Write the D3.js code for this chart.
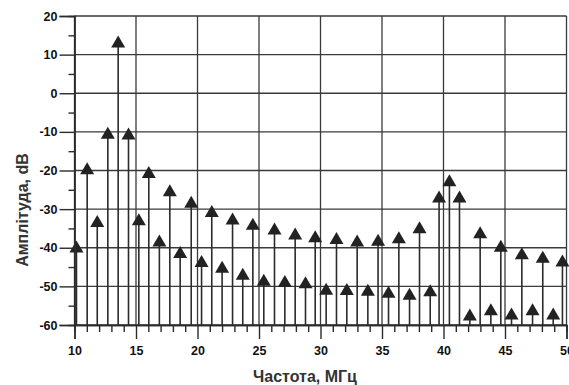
<!DOCTYPE html>
<html>
<head>
<meta charset="utf-8">
<script src="https://cdn.jsdelivr.net/npm/d3@7"></script>
<style>
  html, body { margin: 0; padding: 0; background: #fff; }
  svg { display: block; }
  .tick text { font-family: "Liberation Sans", Arial, sans-serif; font-weight: bold; font-size: 12.5px; fill: #111; }
  .title { font-family: "Liberation Sans", Arial, sans-serif; font-weight: bold; font-size: 16px; fill: #333; }
</style>
</head>
<body>
<svg id="chart" width="569" height="385"></svg>
<script>
// Spectrum lines: frequency (MHz) and amplitude (dB)
const frequencies = [10.16, 11.03, 11.85, 12.71, 13.55, 14.39, 15.23, 16.04, 16.9, 17.75,
  18.59, 19.49, 20.33, 21.16, 22.0, 22.85, 23.68, 24.5, 25.39, 26.26,
  27.1, 27.94, 28.78, 29.57, 30.46, 31.3, 32.14, 32.98, 33.85, 34.68,
  35.53, 36.37, 37.24, 38.05, 38.92, 39.64, 40.48, 41.3, 42.14, 42.98,
  43.85, 44.66, 45.53, 46.37, 47.24, 48.07, 48.92, 49.67];
const amplitudes = [-39.7, -19.4, -33.1, -10.2, 13.4, -10.4, -32.6, -20.4, -38.1, -25.1,
  -41.1, -28.1, -43.4, -30.5, -44.9, -32.4, -46.7, -33.8, -48.3, -35.0,
  -48.6, -36.3, -48.9, -37.0, -50.6, -37.5, -50.7, -38.1, -50.9, -37.9,
  -51.4, -37.3, -51.9, -34.7, -51.0, -26.7, -22.5, -26.7, -57.3, -36.0,
  -55.9, -39.5, -57.0, -41.4, -55.9, -42.3, -57.0, -43.3];

const xMajorTicks = [10, 15, 20, 25, 30, 35, 40, 45, 50];
const xMinorTicks = d3.range(11, 50).filter(v => v % 5 !== 0);
const yMajorTicks = [-60, -50, -40, -30, -20, -10, 0, 10, 20];
const yMinorTicks = [-55, -45, -35, -25, -15, -5, 5, 15];

const xTitle = "Частота, МГц";
const yTitle = "Амплітуда, dB";

const svg = d3.select("#chart");
const ink = "#2b2b2b";

const x = d3.scaleLinear().domain([10, 50]).range([74.5, 566.5]);
const y = d3.scaleLinear().domain([-60, 20]).range([325, 16]);

// grid
const grid = svg.append("g").attr("stroke", "#3a3a3a").attr("stroke-width", 1.3);
grid.selectAll("line.h").data(yMajorTicks).join("line")
  .attr("x1", x(10)).attr("x2", x(50))
  .attr("y1", d => y(d)).attr("y2", d => y(d));
grid.selectAll("line.v").data(xMajorTicks).join("line")
  .attr("y1", y(-60)).attr("y2", y(20))
  .attr("x1", d => x(d)).attr("x2", d => x(d));

// stems
const data = frequencies.map((f, i) => ({ f, a: amplitudes[i] }));
svg.append("g").attr("stroke", ink).attr("stroke-width", 1.6)
  .selectAll("line").data(data).join("line")
  .attr("x1", d => x(d.f)).attr("x2", d => x(d.f))
  .attr("y1", y(-60)).attr("y2", d => y(d.a));

// triangle markers
svg.append("g").attr("fill", "#222")
  .selectAll("path").data(data).join("path")
  .attr("d", "M0,-6L7,6L-7,6Z")
  .attr("transform", d => `translate(${x(d.f)},${y(d.a)})`);

// axes
const styleAxis = g => {
  g.select(".domain").attr("stroke", ink).attr("stroke-width", 1.4);
  g.selectAll(".tick line").attr("stroke", ink).attr("stroke-width", 1.4);
};

svg.append("g").attr("transform", `translate(0,${y(-60)})`)
  .call(d3.axisBottom(x).tickValues(xMinorTicks).tickSize(7).tickFormat(""))
  .call(styleAxis);
svg.append("g").attr("transform", `translate(0,${y(-60)})`)
  .call(d3.axisBottom(x).tickValues(xMajorTicks).tickSize(14).tickPadding(7).tickFormat(d3.format("d")))
  .call(styleAxis);

svg.append("g").attr("transform", `translate(${x(10)},0)`)
  .call(d3.axisLeft(y).tickValues(yMinorTicks).tickSize(6).tickFormat(""))
  .call(styleAxis);
svg.append("g").attr("transform", `translate(${x(10)},0)`)
  .call(d3.axisLeft(y).tickValues(yMajorTicks).tickSize(15).tickPadding(2).tickFormat(d => d3.format("d")(d).replace("−", "-")))
  .call(styleAxis);

// axis titles
svg.append("text").attr("class", "title")
  .attr("x", 305).attr("y", 382).attr("text-anchor", "middle")
  .text(xTitle);
svg.append("text").attr("class", "title")
  .attr("transform", "translate(28,210) rotate(-90)").attr("text-anchor", "middle")
  .text(yTitle);
</script>
</body>
</html>
